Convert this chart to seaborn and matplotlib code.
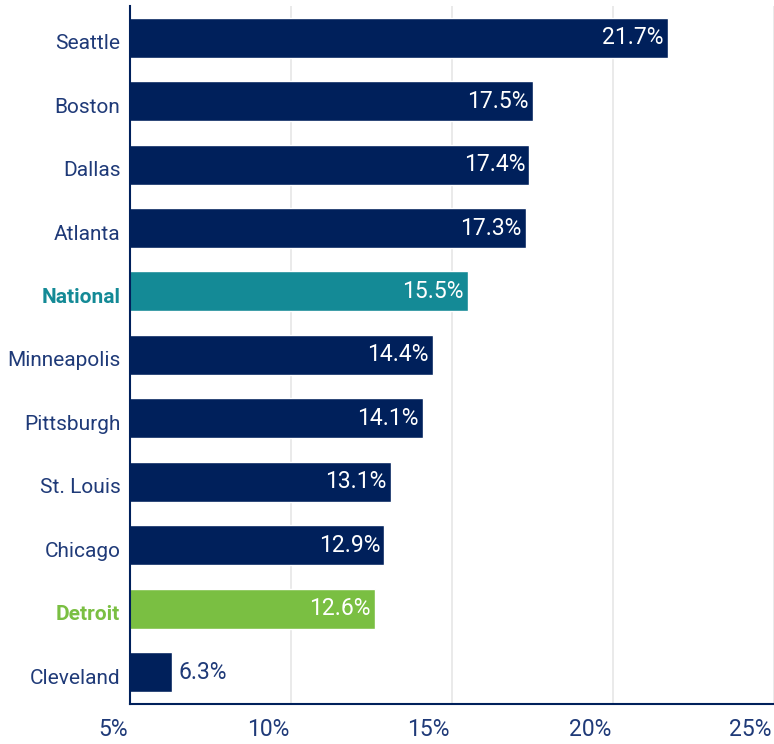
import matplotlib
matplotlib.use("Agg")
import matplotlib.pyplot as plt
import matplotlib.transforms as mtransforms
import seaborn as sns
import pandas as pd

cities = ["Seattle", "Boston", "Dallas", "Atlanta", "National", "Minneapolis",
          "Pittsburgh", "St. Louis", "Chicago", "Detroit", "Cleveland"]
values = [21.7, 17.5, 17.4, 17.3, 15.5, 14.4, 14.1, 13.1, 12.9, 12.6, 6.3]
x_ticks = [5, 10, 15, 20, 25]
x_tick_labels = ["5%", "10%", "15%", "20%", "25%"]

NAVY = "#00205B"
TEAL = "#148A96"
GREEN = "#7ABF42"
TEXT = "#1F3A78"
colors = {c: NAVY for c in cities}
colors["National"] = TEAL
colors["Detroit"] = GREEN

sns.set_theme(style="white")
plt.rcParams["font.family"] = ["Roboto", "DejaVu Sans"]

df = pd.DataFrame({"city": cities, "value": values})

fig = plt.figure(figsize=(7.74, 7.44), dpi=100)
ax = fig.add_axes([0.168, 0.054, 0.832, 0.938])

sns.barplot(data=df, x="value", y="city", hue="city", palette=colors,
            orient="h", width=0.63, legend=False, ax=ax, zorder=2,
            saturation=1)

FS_Y = 15
FS_V = 16.5
ax.set_xlim(5, 25)
ax.set_ylim(len(cities) - 0.5, -0.5)
ax.set_xticks(x_ticks)
ax.set_xlabel("")
ax.set_ylabel("")

ax.tick_params(axis="y", length=0, pad=7)
ax.tick_params(axis="x", direction="in", length=22, width=1.2, color=NAVY,
               pad=10)

ax.set_xticklabels(x_tick_labels, fontsize=FS_V, color=TEXT, ha="right")
shift_x = mtransforms.ScaledTranslation(-2 / 100, 0, fig.dpi_scale_trans)
for lbl in ax.get_xticklabels():
    lbl.set_transform(lbl.get_transform() + shift_x)

shift_y = mtransforms.ScaledTranslation(0, -4 / 100, fig.dpi_scale_trans)
for lbl in ax.get_yticklabels():
    lbl.set_fontsize(FS_Y)
    lbl.set_color(TEXT)
    lbl.set_transform(lbl.get_transform() + shift_y)
    name = lbl.get_text()
    if name == "National":
        lbl.set_color(TEAL)
        lbl.set_fontweight("bold")
    elif name == "Detroit":
        lbl.set_color(GREEN)
        lbl.set_fontweight("bold")

ax.grid(axis="x", color="#E6E6E6", linewidth=1.2, zorder=0)
ax.set_axisbelow(True)

for side in ["top", "right"]:
    ax.spines[side].set_visible(False)
for side in ["left", "bottom"]:
    ax.spines[side].set_color(NAVY)
    ax.spines[side].set_linewidth(1.5)

for i, v in enumerate(values):
    if v - 5 > 3:
        ax.text(v - 0.13, i, f"{v:.1f}%", ha="right", va="center",
                color="white", fontsize=FS_V, zorder=3)
    else:
        ax.text(v + 0.2, i, f"{v:.1f}%", ha="left", va="center",
                color=TEXT, fontsize=FS_V, zorder=3)

fig.savefig("out.png", dpi=100)
